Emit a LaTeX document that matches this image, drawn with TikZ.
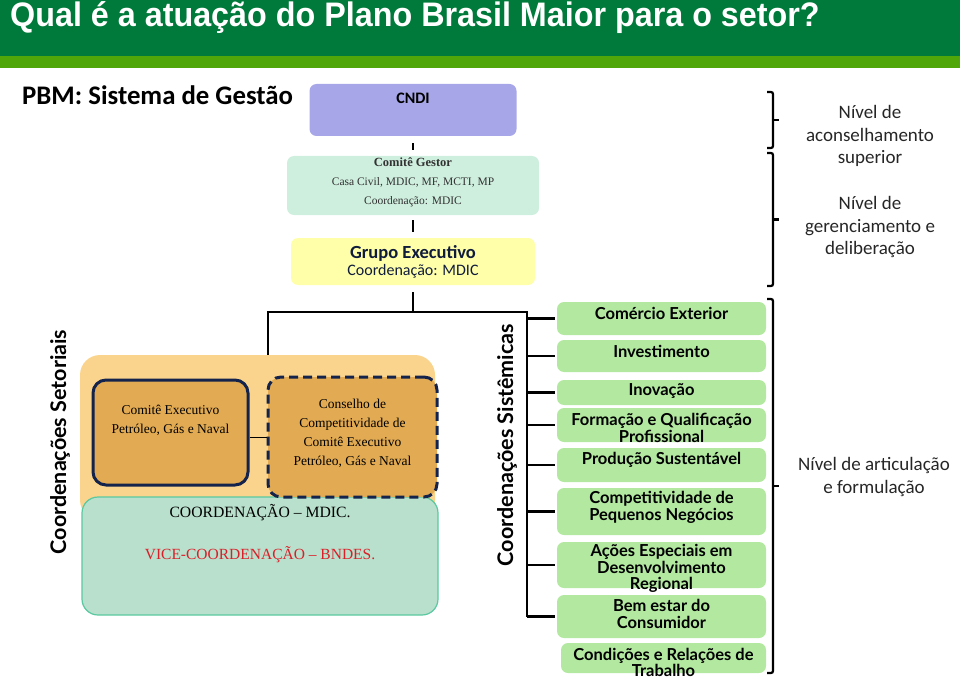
\documentclass[tikz,border=0pt]{standalone}
\usepackage{fontspec}
\setmainfont{Liberation Serif}
\newfontfamily\calib{Carlito}
\newfontfamily\gill{Lato}
\newfontfamily\narrow[FakeStretch=0.95]{Liberation Sans}
\usepackage{xcolor}
\usetikzlibrary{positioning}
\usetikzlibrary{calc}

\definecolor{titlegreen}{RGB}{0,122,58}
\definecolor{bandgreen}{RGB}{78,166,8}
\definecolor{cndiblue}{RGB}{166,166,232}
\definecolor{mint}{RGB}{206,238,222}
\definecolor{paleyellow}{RGB}{255,255,170}
\definecolor{peach}{RGB}{250,212,140}
\definecolor{gold}{RGB}{226,170,82}
\definecolor{navy}{RGB}{20,35,75}
\definecolor{seagreen}{RGB}{184,224,204}
\definecolor{seaborder}{RGB}{90,200,160}
\definecolor{sisgreen}{RGB}{178,232,160}
\definecolor{vicered}{RGB}{220,30,40}
\definecolor{inkgray}{RGB}{50,50,50}

\begin{document}
\begin{tikzpicture}[x=1pt,y=-1pt,
    box/.style={rectangle,rounded corners=7pt,inner sep=0pt},
    sis/.style={box,fill=sisgreen,minimum width=209pt},
    sistxt/.style={font=\gill\bfseries\fontsize{16.5}{16.5}\selectfont,align=center,inner sep=0pt},
    goldbox/.style={box,rounded corners=13pt,fill=gold,draw=navy,line width=3pt},
    serif/.style={font=\fontsize{13.5}{19}\selectfont,align=center,inner sep=0pt},
    side/.style={font=\calib\fontsize{19}{22.5}\selectfont,align=center,text=black!85,inner sep=0pt},
    vert/.style={font=\gill\bfseries\fontsize{21.5}{21.5}\selectfont,rotate=90,inner sep=0pt},
    conn/.style={line width=2.5pt},
    brk/.style={line width=2.2pt,rounded corners=2pt}]
\useasboundingbox (0,0) rectangle (960,679);

% title bar
\fill[titlegreen] (0,0) rectangle (960,56);
\fill[bandgreen] (0,56) rectangle (960,68);
\node[anchor=base west,inner sep=0pt,text=white,font=\narrow\bfseries\fontsize{34}{34}\selectfont] (title) at (10,27) {Qual é a atuação do Plano Brasil Maior para o setor?};

\node[anchor=base west,inner sep=0pt,font=\calib\bfseries\fontsize{26.8}{26.8}\selectfont] (pbm) at (22,105) {PBM: Sistema de Gestão};

% management chain
\node[box,fill=cndiblue,minimum width=207pt,minimum height=52pt] (cndi) at (413,110) {};
\node[font=\calib\bfseries\fontsize{16}{16}\selectfont,inner sep=0pt] (cnditxt) at (413,98) {CNDI};
\node[box,fill=mint,minimum width=252pt,minimum height=59pt] (gestor) at (413,185.5) {};
\node[serif,text=inkgray] (gestortxt) at (413,182) {{\bfseries\fontsize{12.5}{15}\selectfont Comitê Gestor}\\[0pt]
  {\fontsize{11.5}{15}\selectfont Casa Civil, MDIC, MF, MCTI, MP}\\
  {\fontsize{11.5}{15}\selectfont Coordenação: MDIC}};
\node[box,fill=paleyellow,minimum width=244pt,minimum height=47pt] (grupo) at (413,261.5) {};
\node[font=\calib\fontsize{16}{17.5}\selectfont,align=center,inner sep=0pt,text=navy!80!black] (grupotxt) at (413,262) {{\bfseries\fontsize{18.5}{17.5}\selectfont Grupo Executivo}\\Coordenação: MDIC};

\draw[conn,shorten <=7pt,shorten >=6pt] (cndi) -- (gestor);
\draw[conn,shorten <=5pt,shorten >=6pt] (gestor) -- (grupo);

% level brackets
\coordinate (b1t) at (767,92);  \coordinate (b1b) at (767,148);
\coordinate (b2t) at (767,153); \coordinate (b2b) at (767,286);
\coordinate (b3t) at (767,299); \coordinate (b3b) at (767,673);
\foreach \b in {b1,b2,b3}{
  \draw[brk] (\b t) -- ++(6,0) -- ($(\b b)+(6,0)$) -- (\b b);
  \draw[brk] ($(\b t)!0.5!(\b b)+(6,0)$) -- ++(6,0);
}
\node[side] (lvl1) at (870,136) {Nível de\\aconselhamento\\superior};
\node[side] (lvl2) at (870,227) {Nível de\\gerenciamento e\\deliberação};
\node[side] (lvl3) at (874,477) {Nível de articulação\\e formulação};

% sectoral coordination
\node[box,rounded corners=20pt,fill=peach,minimum width=355pt,minimum height=165pt] (setor) at (257.5,437.5) {};
\node[box,rounded corners=16pt,fill=seagreen,draw=seaborder,line width=1.2pt,minimum width=356pt,minimum height=118pt] (coord) at (260,556) {};
\node[goldbox,minimum width=155pt,minimum height=105pt] (ce) at (170.5,432.5) {};
\node[goldbox,dashed,dash pattern=on 9pt off 5pt,minimum width=169pt,minimum height=120pt] (cons) at (352.5,437) {};
\node[serif] (cetxt) at (170.5,420) {Comitê Executivo\\Petróleo, Gás e Naval};
\node[serif] (constxt) at (352.5,433) {Conselho de\\Competitividade de\\Comitê Executivo\\Petróleo, Gás e Naval};
\draw[line width=1pt] (ce.east |- cons.west) -- (cons.west);
\node[font=\fontsize{15.7}{15.7}\selectfont,inner sep=0pt] (mdic) at (260,513) {COORDENAÇÃO -- MDIC.};
\node[font=\fontsize{15.5}{15.5}\selectfont,inner sep=0pt,text=vicered] (bndes) at (260,555) {VICE-COORDENAÇÃO -- BNDES.};
\node[vert] (setorlbl) at (60,442) {Coordenações Setoriais};

% systemic coordination
\node[vert] (sislbl) at (507,445) {Coordenações Sistêmicas};
\node[sis,minimum height=33pt] (s1) at (661.5,318.5) {};
\node[sistxt] (t1) at (661.5,313) {Comércio Exterior};
\node[sis,minimum height=32pt] (s2) at (661.5,356) {};
\node[sistxt] (t2) at (661.5,351) {Investimento};
\node[sis,minimum height=25pt] (s3) at (661.5,392.5) {};
\node[sistxt] (t3) at (661.5,391) {Inovação};
\node[sis,minimum height=34pt] (s4) at (661.5,425) {};
\node[sistxt] (t4) at (661.5,428) {Formação e Qualificação\\Profissional};
\node[sis,minimum height=34pt] (s5) at (661.5,465) {};
\node[sistxt] (t5) at (661.5,460) {Produção Sustentável};
\node[sis,minimum height=47pt] (s6) at (661.5,511.5) {};
\node[sistxt] (t6) at (661.5,507.5) {Competitividade de\\Pequenos Negócios};
\node[sis,minimum height=46pt] (s7) at (661.5,565) {};
\node[sistxt] (t7) at (661.5,568.5) {Ações Especiais em\\Desenvolvimento\\Regional};
\node[sis,minimum height=43pt] (s8) at (661.5,616.5) {};
\node[sistxt] (t8) at (661.5,614) {Bem estar do\\Consumidor};
\node[sis,minimum height=30pt,minimum width=205pt] (s9) at (663.5,658) {};
\node[sistxt] (t9) at (663.5,662.5) {Condições e Relações de\\Trabalho};

% connectors from the executive group
\coordinate (jn) at (413,312);
\coordinate (jl) at (268,312);
\coordinate (bt) at (527,312);
\draw[conn,shorten <=7pt] (grupo) -- (jn);
\draw[conn] (jl |- setor.north) -- (jl) -- (bt) -- (bt |- s8.west);
\foreach \s in {s1,s2,s3,s4,s5,s6,s7,s8}
  \draw[conn] (bt |- \s.west) -- ([xshift=-2pt]\s.west);

\end{tikzpicture}
\end{document}
